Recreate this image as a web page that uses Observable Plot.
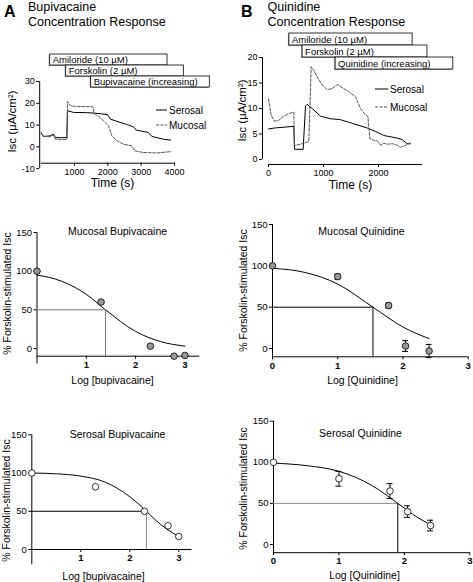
<!DOCTYPE html>
<html><head><meta charset="utf-8">
<script src="https://cdn.jsdelivr.net/npm/d3@7"></script>
<script src="https://cdn.jsdelivr.net/npm/@observablehq/plot@0.6"></script>
<style>
html,body{margin:0;padding:0;background:#fff;}
#page{position:relative;width:473px;height:582px;overflow:hidden;background:#fff;}
</style></head><body><div id="page"></div>
<script>
const FONT = "'Liberation Sans', Arial, Helvetica, sans-serif";

// ---------- Panel A: Bupivacaine trace ----------
const aSerosalT = [0, 60, 250, 370, 420, 600, 770, 790, 970, 1370, 1670, 1990, 2070, 2270, 2520, 2770, 2850, 3220, 3320, 3670, 3890];
const aSerosalV = [6.5, 4.8, 5.0, 5.8, 4.3, 4.2, 4.3, 16.6, 15.8, 15.7, 15.4, 14.8, 12.8, 11.7, 10.5, 9.2, 7.7, 6.6, 4.8, 3.5, 3.1];
const aMucosalT = [0, 60, 250, 370, 420, 600, 770, 790, 870, 1000, 1550, 1590, 1770, 1920, 2020, 2120, 2270, 2470, 2720, 2800, 3070, 3470, 3890];
const aMucosalV = [6.3, 4.8, 4.6, 5.5, 3.5, 3.3, 3.4, 20.8, 18.9, 18.6, 18.4, 15.4, 13.5, 11.2, 9.7, 5.1, 2.8, 1.2, 0.5, -1.8, -2.6, -2.8, -2.2];
const aTreatNames = ["Amiloride (10 \u00B5M)", "Forskolin (2 \u00B5M)", "Bupivacaine (increasing)"];
const aTreatStart = [270, 750, 1500];
const aTreatEnd = [3790, 4280, 5060];
const aXTicks = [1000, 2000, 3000, 4000];
const aYTicks = [-10, 0, 10, 20, 30];

// ---------- Panel B: Quinidine trace ----------
const bSerosalT = [0, 128, 460, 473, 630, 673, 703, 794, 946, 1128, 1310, 1550, 1790, 1945, 2097, 2340, 2430, 2520, 2580];
const bSerosalV = [6.0, 6.2, 6.5, 2.0, 2.0, 10.5, 10.8, 10.0, 8.5, 8.0, 7.8, 7.0, 6.2, 5.5, 4.7, 4.2, 3.9, 3.1, 3.1];
const bMucosalT = [0, 49, 109, 188, 279, 370, 460, 473, 582, 733, 776, 824, 885, 976, 1067, 1158, 1249, 1340, 1460, 1582, 1673, 1764, 1806, 1843, 1928, 1976, 2036, 2097, 2158, 2249, 2340, 2400, 2491, 2582];
const bMucosalV = [11.9, 8.7, 7.5, 7.7, 8.5, 9.0, 9.3, 2.75, 3.0, 3.5, 18.2, 17.5, 16.2, 14.6, 13.7, 13.9, 14.7, 14.1, 13.3, 12.3, 10.0, 8.7, 8.5, 4.1, 3.7, 3.7, 2.8, 3.2, 3.0, 3.1, 2.8, 2.4, 2.8, 3.2];
const bTreatNames = ["Amiloride (10 \u00B5M)", "Forskolin (2 \u00B5M)", "Quinidine (increasing)"];
const bTreatStart = [380, 620, 1220];
const bTreatEnd = [2620, 2890, 3360];
const bXTicks = [0, 1000, 2000];
const bYTicks = [0, 5, 10, 15, 20];

const legendLabels = ["Serosal", "Mucosal"];

// ---------- Dose-response panels ----------
const mucBupiX = [0, 1.3, 2.3, 2.78, 3.0];
const mucBupiY = [100, 60, 3, -10, -9];
const mucBupiFitX = [0, 0.5, 1.0, 1.39, 2.0, 2.5, 3.0];
const mucBupiFitY = [95, 87, 70, 50, 22, 9, 3];
const mucBupiIC50 = 1.39;

const mucQuinX = [0, 1.0, 1.78, 2.04, 2.4];
const mucQuinY = [100, 87, 52, 3, -3];
const mucQuinErr = [0, 3, 3, 6.5, 8];
const mucQuinFitX = [0, 0.5, 1.0, 1.54, 2.0, 2.4];
const mucQuinFitY = [97, 92, 78, 50, 26, 12];
const mucQuinIC50 = 1.54;

const serBupiX = [0, 1.3, 2.3, 2.78, 3.0];
const serBupiY = [100, 82, 50, 31, 17];
const serBupiFitX = [0, 0.5, 1.0, 1.5, 2.0, 2.34, 2.5, 2.75, 3.0];
const serBupiFitY = [100, 99, 96, 88, 69, 50, 40, 27, 17];
const serBupiIC50 = 2.34;

const serQuinX = [0, 1.0, 1.78, 2.05, 2.4];
const serQuinY = [100, 80, 65, 40, 23];
const serQuinErr = [0, 9, 9, 7, 6.5];
const serQuinFitX = [0, 0.5, 1.0, 1.5, 1.9, 2.2, 2.4];
const serQuinFitY = [99, 96, 89, 72, 50, 33, 24];
const serQuinIC50 = 1.9;

const drYTicks = [0, 50, 100, 150];
const yLabelDR = "% Forskolin-stimulated Isc";
const yLabelTrace = "Isc (\u00B5A/cm\u00B2)";

// ---------------------------------------------------------
const page = document.getElementById("page");
function place(el, box) {
  el.style.position = "absolute";
  el.style.left = box.left + "px";
  el.style.top = box.top + "px";
  el.style.overflow = "visible";
  page.appendChild(el);
}
const baseStyle = {background: "transparent", overflow: "visible", fontFamily: FONT, fontSize: "9px", color: "black"};
const fmt = d => String(d);

function pageText(frame, str, px, py, o = {}) {
  return Plot.text([str], {text: d => d, frameAnchor: "top-left", dx: px - frame.l, dy: py - frame.t,
    textAnchor: "middle", lineAnchor: "middle", fontSize: 10.5, fill: "black", ...o});
}

function tracePanel(c) {
  const ser = c.serT.map((t, i) => ({t, v: c.serV[i]}));
  const muc = c.mucT.map((t, i) => ({t, v: c.mucV[i]}));
  const f = c.frame;
  return Plot.plot({
    width: c.box.w, height: c.box.h,
    marginLeft: f.l - c.box.left, marginRight: c.box.left + c.box.w - f.r,
    marginTop: f.t - c.box.top, marginBottom: c.box.top + c.box.h - f.b,
    x: {domain: c.xDomain, insetLeft: c.xInset},
    y: {domain: c.yDomain, insetBottom: c.yInset},
    style: baseStyle,
    marks: [
      Plot.ruleX([c.xDomain[0]], {y1: c.yAxisFrom, y2: c.yAxisTo, dx: -c.xInset, stroke: "black"}),
      Plot.ruleY([c.yDomain[0]], {x1: c.xDomain[0], x2: c.xDomain[1], dy: c.yInset, stroke: "black"}),
      Plot.axisY({ticks: c.yTicks, tickFormat: fmt, tickSize: 3, tickPadding: 2, fontSize: 9, label: null}),
      Plot.axisX({ticks: c.xTicks, tickFormat: fmt, tickSize: 3, tickPadding: 2, fontSize: 9, label: null}),
      Plot.line(ser, {x: "t", y: "v", stroke: "black", strokeWidth: 1}),
      Plot.line(muc, {x: "t", y: "v", stroke: "#555", strokeWidth: 1, strokeDasharray: "3,1.5"}),
      pageText(f, "Time (s)", c.xlabelPos[0], c.xlabelPos[1], {fontSize: 12}),
      pageText(f, yLabelTrace, c.ylabelPos[0], c.ylabelPos[1], {fontSize: 11.5, rotate: -90})
    ]
  });
}

function boxPlot(c) {
  const rows = c.names.map((name, i) => ({name, start: c.starts[i], end: c.ends[i]}));
  return Plot.plot({
    width: c.box.w, height: c.box.h,
    marginLeft: c.x0 - c.box.left, marginRight: c.box.left + c.box.w - c.x1,
    marginTop: c.rowTop - c.box.top, marginBottom: c.box.top + c.box.h - (c.rowTop + c.rowH * rows.length),
    x: {domain: c.xDomain, axis: null},
    y: {type: "band", domain: c.names, padding: 0, axis: null},
    style: baseStyle,
    marks: [
      Plot.barX(rows, {x1: "start", x2: "end", y: "name", fill: "#999", dx: -1, dy: 1}),
      Plot.barX(rows, {x1: "start", x2: "end", y: "name", fill: "white", stroke: "black", strokeWidth: 0.8}),
      Plot.text(rows, {x: "start", y: "name", text: "name", textAnchor: "start", dx: 2.5, fontSize: 9.5, fill: "black"})
    ]
  });
}

function drPanel(c) {
  const f = c.frame;
  const pts = c.x.map((x, i) => ({x, y: c.y[i], e: c.err ? c.err[i] : 0}));
  const errPts = pts.filter(d => d.e > 0);
  const fit = c.fitX.map((x, i) => ({x, y: c.fitY[i]}));
  return Plot.plot({
    width: c.box.w, height: c.box.h,
    marginLeft: f.l - c.box.left, marginRight: c.box.left + c.box.w - f.r,
    marginTop: f.t - c.box.top, marginBottom: c.box.top + c.box.h - f.b,
    x: {domain: c.xDomain},
    y: {domain: c.yDomain},
    style: baseStyle,
    marks: [
      Plot.ruleX([c.xDomain[0]], {y1: c.yAxisFrom, y2: c.yDomain[1], stroke: "black"}),
      Plot.ruleY([c.yDomain[0]], {x1: c.xDomain[0], x2: c.xDomain[1], stroke: "black"}),
      Plot.axisY({ticks: drYTicks, tickFormat: fmt, tickSize: 3, tickPadding: 2, fontSize: 9.5, label: null}),
      Plot.axisX({ticks: c.xTicks, tickFormat: fmt, tickSize: 3, tickPadding: 2, fontSize: 9.5, fontWeight: "bold", label: null}),
      Plot.line(fit, {x: "x", y: "y", curve: "monotone-x", stroke: "black", strokeWidth: 1}),
      Plot.ruleY([50], {x1: c.xDomain[0], x2: c.ic50, stroke: c.hColor, strokeWidth: 1}),
      Plot.ruleX([c.ic50], {y1: c.yDomain[0], y2: 50, stroke: c.vColor, strokeWidth: 1}),
      Plot.ruleX(errPts, {x: "x", y1: d => d.y - d.e, y2: d => d.y + d.e, stroke: "black"}),
      Plot.ruleY(errPts, {y: d => d.y + d.e, x1: "x", x2: "x", insetLeft: -3, insetRight: -3, stroke: "black"}),
      Plot.ruleY(errPts, {y: d => d.y - d.e, x1: "x", x2: "x", insetLeft: -3, insetRight: -3, stroke: "black"}),
      Plot.dot(pts, {x: "x", y: "y", r: 3.3, fill: c.dotFill, stroke: "black", strokeWidth: 0.8}),
      pageText(f, c.title, c.titlePos[0], c.titlePos[1], {fontSize: 10.5}),
      pageText(f, c.xlabel, c.xlabelPos[0], c.xlabelPos[1], {fontSize: 10.5}),
      pageText(f, yLabelDR, c.ylabelPos[0], c.ylabelPos[1], {fontSize: 10.5, rotate: -90})
    ]
  });
}

// ---------- header / legend overlay ----------
const over = d3.create("svg").attr("width", 473).attr("height", 582)
  .style("position", "absolute").style("left", "0px").style("top", "0px")
  .style("font-family", FONT);
function hdr(x, y, str, size, weight) {
  over.append("text").attr("x", x).attr("y", y).attr("font-size", size)
    .attr("font-weight", weight || "normal").attr("fill", "black").text(str);
}
hdr(4, 17, "A", 16, "bold");
hdr(28, 11, "Bupivacaine", 12.5);
hdr(28, 26, "Concentration Response", 12.5);
hdr(241, 17, "B", 16, "bold");
hdr(267.5, 11, "Quinidine", 12.5);
hdr(267.5, 26, "Concentration Response", 12.5);
function legend(x0, x1, ys) {
  legendLabels.forEach((lab, i) => {
    over.append("line").attr("x1", x0).attr("x2", x1).attr("y1", ys[i]).attr("y2", ys[i])
      .attr("stroke", i ? "#555" : "black").attr("stroke-width", 1)
      .attr("stroke-dasharray", i ? "3,1.5" : null);
    over.append("text").attr("x", x1 + 2).attr("y", ys[i]).attr("dy", "0.35em")
      .attr("font-size", 10).attr("fill", "black").text(lab);
  });
}
legend(156, 167, [110, 125]);
legend(375, 388, [89, 107]);
page.appendChild(over.node());

// ---------- build panels ----------
const traceABox = {left: 0, top: 40, w: 236, h: 155};
place(tracePanel({
  box: traceABox, frame: {l: 39.2, r: 174, t: 81, b: 162.7},
  xDomain: [0, 4000], yDomain: [-7.5, 30], xInset: 1.5, yInset: 0,
  yAxisFrom: -10, yAxisTo: 30, xTicks: aXTicks, yTicks: aYTicks,
  serT: aSerosalT, serV: aSerosalV, mucT: aMucosalT, mucV: aMucosalV,
  xlabelPos: [112, 183], ylabelPos: [12, 121]
}), traceABox);

const traceBBox = {left: 236, top: 28, w: 237, h: 167};
place(tracePanel({
  box: traceBBox, frame: {l: 262, r: 422, t: 57, b: 164},
  xDomain: [0, 2800], yDomain: [0, 20], xInset: 6, yInset: 5,
  yAxisFrom: 0, yAxisTo: 20, xTicks: bXTicks, yTicks: bYTicks,
  serT: bSerosalT, serV: bSerosalV, mucT: bMucosalT, mucV: bMucosalV,
  xlabelPos: [350, 185], ylabelPos: [242, 110]
}), traceBBox);

const boxABox = {left: 0, top: 48, w: 236, h: 44};
place(boxPlot({box: boxABox, x0: 40.7, x1: 174, xDomain: [0, 4000], rowTop: 53, rowH: 11.8,
  names: aTreatNames, starts: aTreatStart, ends: aTreatEnd}), boxABox);
const boxBBox = {left: 236, top: 29, w: 237, h: 44};
place(boxPlot({box: boxBBox, x0: 268, x1: 422, xDomain: [0, 2800], rowTop: 33, rowH: 12,
  names: bTreatNames, starts: bTreatStart, ends: bTreatEnd}), boxBBox);

const mbBox = {left: 0, top: 205, w: 236, h: 185};
place(drPanel({
  box: mbBox, frame: {l: 36.5, r: 199.2, t: 232, b: 355.7},
  xDomain: [0, 3.3], yDomain: [-10, 150], yAxisFrom: -20, xTicks: [1, 2, 3],
  x: mucBupiX, y: mucBupiY, fitX: mucBupiFitX, fitY: mucBupiFitY, ic50: mucBupiIC50,
  dotFill: "#999", hColor: "#777", vColor: "#777",
  title: "Mucosal Bupivacaine", titlePos: [117, 231],
  xlabel: "Log [bupivacaine]", xlabelPos: [112, 380], ylabelPos: [7, 293]
}), mbBox);

const mqBox = {left: 236, top: 200, w: 237, h: 190};
place(drPanel({
  box: mqBox, frame: {l: 272, r: 467.7, t: 224, b: 356.3},
  xDomain: [0, 3], yDomain: [-10, 150], yAxisFrom: -10, xTicks: [0, 1, 2, 3],
  x: mucQuinX, y: mucQuinY, err: mucQuinErr, fitX: mucQuinFitX, fitY: mucQuinFitY, ic50: mucQuinIC50,
  dotFill: "#999", hColor: "black", vColor: "black",
  title: "Mucosal Quinidine", titlePos: [361, 231],
  xlabel: "Log [Quinidine]", xlabelPos: [362, 380], ylabelPos: [243, 290]
}), mqBox);

const sbBox = {left: 0, top: 410, w: 236, h: 172};
place(drPanel({
  box: sbBox, frame: {l: 31.3, r: 191.5, t: 434.3, b: 549},
  xDomain: [0, 3.27], yDomain: [0, 150], yAxisFrom: -20, xTicks: [1, 2, 3],
  x: serBupiX, y: serBupiY, fitX: serBupiFitX, fitY: serBupiFitY, ic50: serBupiIC50,
  dotFill: "white", hColor: "black", vColor: "#888",
  title: "Serosal Bupivacaine", titlePos: [117, 434],
  xlabel: "Log [bupivacaine]", xlabelPos: [103, 576], ylabelPos: [6, 500]
}), sbBox);

const sqBox = {left: 236, top: 410, w: 237, h: 172};
place(drPanel({
  box: sqBox, frame: {l: 273, r: 469.3, t: 420.7, b: 552.2},
  xDomain: [0, 3], yDomain: [-10, 150], yAxisFrom: -10, xTicks: [0, 1, 2, 3],
  x: serQuinX, y: serQuinY, err: serQuinErr, fitX: serQuinFitX, fitY: serQuinFitY, ic50: serQuinIC50,
  dotFill: "white", hColor: "#888", vColor: "black",
  title: "Serosal Quinidine", titlePos: [360, 433],
  xlabel: "Log [Quinidine]", xlabelPos: [364, 575], ylabelPos: [243, 488]
}), sqBox);
</script></body></html>
